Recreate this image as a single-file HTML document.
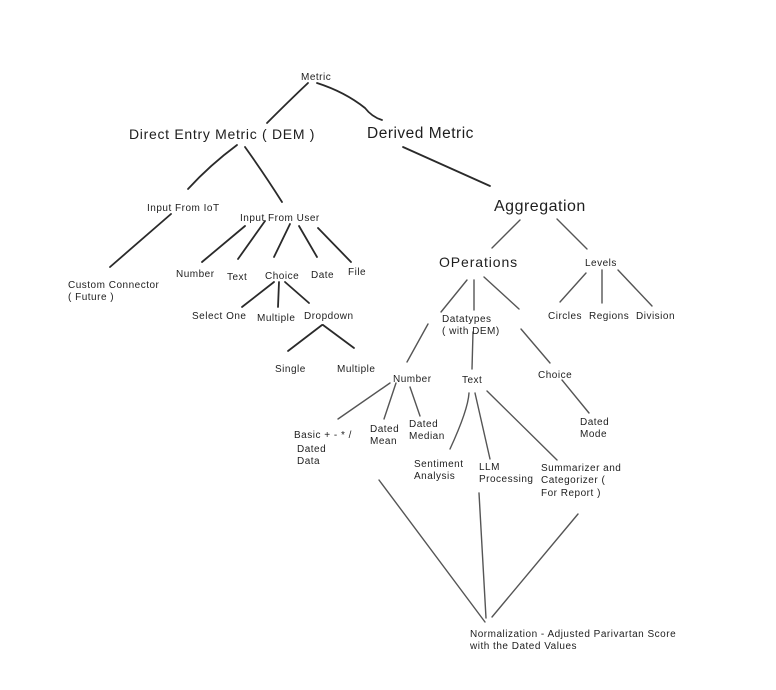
<!DOCTYPE html>
<html><head><meta charset="utf-8"><style>
html,body{margin:0;padding:0;background:#fff;}
svg{display:block}
text{font-family:"Liberation Sans",sans-serif;fill:#1e1e1e;}
.s{font-size:10px;letter-spacing:0.5px}
.m{font-size:14px;letter-spacing:0.7px}
.o{font-size:14px;letter-spacing:0.9px}
.l{font-size:15.5px;letter-spacing:0.5px}
</style></head><body>
<svg width="776" height="690" viewBox="0 0 776 690" xmlns="http://www.w3.org/2000/svg">
<g stroke="#2a2a2a" stroke-width="1.8" fill="none" stroke-linecap="round">
<path d="M308 83 Q290 100 267 123"/>
<path d="M317 83 Q345 92 365 108 Q372 117 382 120"/>
<path d="M237 145 Q210 165 188 189"/>
<path d="M245 147 Q265 175 282 202"/>
<path d="M171 214 L110 267"/>
<path d="M245 226 L202 262"/>
<path d="M265 221 L238 259"/>
<path d="M290 224 L274 257"/>
<path d="M299 226 L317 257"/>
<path d="M318 228 L351 262"/>
<path d="M274 282 L242 307"/>
<path d="M279 282 L278 307"/>
<path d="M285 282 L309 303"/>
<path d="M322 325 L288 351"/>
<path d="M323 325 L354 348"/>
<path d="M403 147 L490 186"/>
</g>
<g stroke="#555" stroke-width="1.4" fill="none" stroke-linecap="round">
<path d="M520 220 L492 248"/>
<path d="M557 219 L587 249"/>
<path d="M467 280 L441 312"/>
<path d="M474 280 L474 310"/>
<path d="M484 277 L519 309"/>
<path d="M586 273 L560 302"/>
<path d="M602 270 L602 303"/>
<path d="M618 270 L652 306"/>
<path d="M428 324 L407 362"/>
<path d="M473 332 L472 369"/>
<path d="M521 329 L550 363"/>
<path d="M390 383 L338 419"/>
<path d="M396 383 L384 419"/>
<path d="M410 387 L420 416"/>
<path d="M562 380 L589 413"/>
<path d="M469 393 Q468 410 450 449"/>
<path d="M475 393 L490 459"/>
<path d="M487 391 L557 460"/>
<path d="M379 480 L485 622"/>
<path d="M479 493 L486 618"/>
<path d="M578 514 L492 617"/>
</g>
<text class="s" x="301" y="80">Metric</text>
<text class="m" x="129" y="139">Direct Entry Metric ( DEM )</text>
<text class="l" x="367" y="138">Derived Metric</text>
<text class="s" x="147" y="211">Input From IoT</text>
<text class="s" x="240" y="221">Input From User</text>
<text class="s" x="68" y="288">Custom Connector</text>
<text class="s" x="68" y="300">( Future )</text>
<text class="s" x="176" y="277">Number</text>
<text class="s" x="227" y="280">Text</text>
<text class="s" x="265" y="279">Choice</text>
<text class="s" x="311" y="278">Date</text>
<text class="s" x="348" y="275">File</text>
<text class="s" x="192" y="319">Select One</text>
<text class="s" x="257" y="321">Multiple</text>
<text class="s" x="304" y="319">Dropdown</text>
<text class="s" x="275" y="372">Single</text>
<text class="s" x="337" y="372">Multiple</text>
<text class="l" x="494" y="211" style="font-size:16px">Aggregation</text>
<text class="o" x="439" y="267">OPerations</text>
<text class="s" x="585" y="266">Levels</text>
<text class="s" x="548" y="319">Circles</text>
<text class="s" x="589" y="319">Regions</text>
<text class="s" x="636" y="319">Division</text>
<text class="s" x="442" y="322">Datatypes</text>
<text class="s" x="442" y="334">( with DEM)</text>
<text class="s" x="393" y="382">Number</text>
<text class="s" x="462" y="383">Text</text>
<text class="s" x="538" y="378">Choice</text>
<text class="s" x="294" y="438">Basic + - * /</text>
<text class="s" x="297" y="452">Dated</text>
<text class="s" x="297" y="464">Data</text>
<text class="s" x="370" y="432">Dated</text>
<text class="s" x="370" y="444">Mean</text>
<text class="s" x="409" y="427">Dated</text>
<text class="s" x="409" y="439">Median</text>
<text class="s" x="580" y="425">Dated</text>
<text class="s" x="580" y="437">Mode</text>
<text class="s" x="414" y="467">Sentiment</text>
<text class="s" x="414" y="479">Analysis</text>
<text class="s" x="479" y="470">LLM</text>
<text class="s" x="479" y="482">Processing</text>
<text class="s" x="541" y="471">Summarizer and</text>
<text class="s" x="541" y="483">Categorizer (</text>
<text class="s" x="541" y="496">For Report )</text>
<text class="s" x="470" y="637">Normalization - Adjusted Parivartan Score</text>
<text class="s" x="470" y="649">with the Dated Values</text>
</svg>
</body></html>
